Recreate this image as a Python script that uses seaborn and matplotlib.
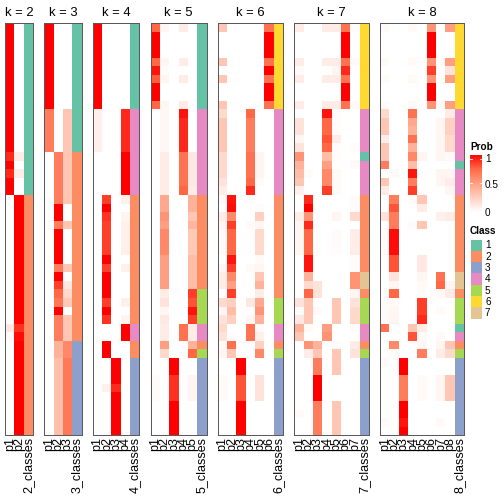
import numpy as np
import pandas as pd
import matplotlib
matplotlib.use("Agg")
import matplotlib.pyplot as plt
import seaborn as sns
from matplotlib.colors import LinearSegmentedColormap, ListedColormap
from matplotlib.patches import Rectangle

# membership probabilities per k (48 samples, top to bottom) and the assigned class
k2_p1 = [1,1,1,1,1,1,1,1,1,1, 1,1,1,1,1,.9,1,.9,1,1, 0,0,0,0,0,0,0,0,0,0, 0,0,0,0,0,.12,.03,0,0,0, 0,0,0,0,0,0,0,0]
k2_p2 = [0,0,0,0,0,0,0,0,0,0, 0,0,0,0,0,.1,0,.1,0,0, 1,1,1,1,1,1,1,1,1,1, 1,1,1,1,1,.88,.97,1,1,1, 1,1,1,1,1,1,1,1]
k2_cls = [1,1,1,1,1,1,1,1,1,1, 1,1,1,1,1,1,1,1,1,1, 2,2,2,2,2,2,2,2,2,2, 2,2,2,2,2,2,2,2,2,2, 2,2,2,2,2,2,2,2]

k3_p1 = [1,1,1,1,1,1,1,1,1,1, .65,.65,.65,.65,.65,0,0,0,0,0, 0,0,0,0,0,0,0,0,0,0, 0,0,0,0,0,0,0,0,0,0, 0,0,0,0,0,0,0,0]
k3_p2 = [0,0,0,0,0,0,0,0,0,0, 0,0,0,0,0,.65,.65,.65,.65,.65, .65,1,1,.65,1,1,1,1,.65,1, .85,.75,.68,1,.65,.65,.65,.4,.4,.33, .33,.33,.33,.33,.33,.33,.33,.33]
k3_p3 = [0,0,0,0,0,0,0,0,0,0, .3,.3,.3,.3,.3,.3,.3,.3,.3,.3, .3,0,0,.3,0,0,0,0,.3,0, .12,.2,.28,0,.3,.3,.3,.6,.6,.67, .67,.67,.67,.67,.67,.67,.67,.67]
k3_cls = [1,1,1,1,1,1,1,1,1,1, 1,1,1,1,1,2,2,2,2,2, 2,2,2,2,2,2,2,2,2,2, 2,2,2,2,2,2,2,3,3,3, 3,3,3,3,3,3,3,3]

k4_p1 = [1,1,1,1,1,1,1,1,1,1, .08,.08,.08,.08,.08,0,0,0,0,0, 0,0,0,0,0,0,0,0,0,0, 0,0,0,0,0,0,0,0,0,0, 0,0,0,0,0,0,0,0]
k4_p2 = [0,0,0,0,0,0,0,0,0,0, 0,0,0,0,0,0,0,0,0,0, .85,1,.88,.85,.85,.85,.85,1,.85,1, 1,1,.85,1,.88,0,0,1,1,0, 0,0,.08,0,0,0,0,0]
k4_p3 = [0,0,0,0,0,0,0,0,0,0, 0,0,0,0,0,0,0,0,0,0, 0,0,0,0,0,0,0,0,0,0, 0,0,0,0,0,0,0,0,0,1, 1,1,.9,1,1,1,1,1]
k4_p4 = [0,0,0,0,0,0,0,0,0,0, .9,.9,.9,.9,.9,1,1,1,1,1, .08,0,.06,.08,.08,.08,.08,0,.08,0, 0,0,.08,0,.06,1,1,0,0,0, 0,0,0,0,0,0,0,0]
k4_cls = [1,1,1,1,1,1,1,1,1,1, 4,4,4,4,4,4,4,4,4,4, 2,2,2,2,2,2,2,2,2,2, 2,2,2,2,2,4,4,2,2,3, 3,3,3,3,3,3,3,3]

k5_p1 = [.75,1,1,1,.75,.95,.78,1,1,.75, 0,0,0,0,0,0,0,0,0,0, 0,0,0,0,0,0,0,0,0,0, 0,0,0,0,0,0,0,0,0,0, 0,.02,.02,.02,0,0,0,0]
k5_p2 = [.05,0,0,0,.05,.02,.05,0,0,.05, .04,.04,.04,.04,.04,.1,.1,.1,.1,.1, .45,.45,.55,.5,.6,.6,.6,.5,.5,.5, .5,.1,.15,.05,.12,.1,.1,.5,.2,0, 0,0,0,0,0,0,0,0]
k5_p3 = [0,0,0,0,0,0,0,0,0,0, 0,0,0,0,0,0,0,0,0,0, 0,0,0,0,0,0,0,0,0,0, 0,0,0,0,0,0,0,0,0,1, 1,.88,.88,.88,1,1,1,1]
k5_p4 = [.1,0,0,0,.1,0,.1,0,0,.1, .95,.9,.9,.9,.9,.7,.7,.7,.7,.75, 0,0,0,0,0,0,0,0,0,0, 0,0,0,0,0,.7,.7,0,0,0, 0,0,0,0,0,0,0,0]
k5_p5 = [0,0,0,0,0,0,0,0,0,0, 0,0,0,0,0,.12,.12,.12,.12,.1, .4,.4,.3,.38,.28,.28,.28,.35,.35,.35, .35,.85,.8,.95,.85,.1,.1,.4,.75,0, 0,.06,.06,.06,0,0,0,0]
k5_cls = [1,1,1,1,1,1,1,1,1,1, 4,4,4,4,4,4,4,4,4,4, 2,2,2,2,2,2,2,2,2,2, 2,5,5,5,5,4,4,2,5,3, 3,3,3,3,3,3,3,3]

k6_p1 = [.3,0,0,0,.3,0,.3,0,0,.3, .2,.3,.3,.3,.3,.2,.2,.2,.15,.1, .03,0,.1,.05,.03,.03,.03,0,.05,.1, .1,0,.2,.05,.15,.2,.15,.03,.05,0, 0,.03,.03,.03,0,0,0,0]
k6_p2 = [0,0,0,0,0,0,0,0,0,0, 0,0,0,0,0,0,0,0,0,0, .95,.97,.6,.85,.75,.75,.75,.95,.85,.6, .5,.85,.25,.35,.25,0,.02,.7,.3,0, 0,0,0,0,0,0,0,0]
k6_p3 = [0,0,0,0,0,0,0,0,0,0, 0,0,0,0,0,0,0,0,0,0, 0,0,0,0,0,0,0,0,0,0, 0,0,0,0,0,0,0,0,0,1, 1,.8,.8,.8,1,1,1,1]
k6_p4 = [0,0,0,0,0,0,0,0,0,0, .75,.65,.65,.65,.65,.7,.7,.7,.75,.9, .02,0,0,.03,0,0,0,0,.03,0, 0,0,.12,0,.05,.7,.7,0,0,0, 0,0,0,0,0,0,0,0]
k6_p5 = [0,0,0,0,0,0,0,0,0,0, 0,0,0,0,0,.05,.05,.05,.02,0, 0,.02,.25,.05,.2,.2,.2,.03,.05,.3, .4,.1,.45,.55,.4,.03,.08,.25,.6,0, 0,.15,.15,.15,0,0,0,0]
k6_p6 = [.7,1,1,1,.7,1,.7,1,1,.7, 0,0,0,0,0,0,0,0,0,0, 0,0,0,0,0,0,0,0,0,0, 0,0,0,0,0,0,0,0,0,0, 0,0,0,0,0,0,0,0]
k6_cls = [6,6,6,6,6,6,6,6,6,6, 4,4,4,4,4,4,4,4,4,4, 2,2,2,2,2,2,2,2,2,2, 2,2,5,5,5,4,4,2,5,3, 3,3,3,3,3,3,3,3]

k7_p1 = [.1,0,0,0,.1,.03,.1,0,0,.1, 0,.15,.15,.05,.15,.55,.4,.35,.3,.08, 0,0,.1,.05,.05,.05,.05,0,0,0, 0,0,.15,.02,.12,.4,.3,0,0,0, 0,0,0,0,0,.03,0,0]
k7_p2 = [0,0,0,0,0,0,0,0,0,0, 0,0,0,0,0,0,0,.02,0,0, .9,1,.55,.9,.75,.75,.75,.95,.95,.4, .2,.75,.3,.3,.3,.03,0,.55,.1,0, 0,0,0,0,0,0,0,0]
k7_p3 = [0,0,0,0,0,0,0,0,0,0, 0,0,0,0,0,0,0,0,0,0, 0,0,0,0,0,0,0,0,0,0, .15,.15,0,.03,0,0,0,.4,.3,.65, .65,1,1,1,.65,.65,.65,.65]
k7_p4 = [.1,0,0,0,.1,0,.1,0,0,.1, .95,.75,.75,.8,.75,.35,.5,.6,.6,.85, 0,0,0,0,0,0,0,0,0,0, 0,0,0,0,0,.5,.55,0,0,0, 0,0,0,0,0,0,0,0]
k7_p5 = [.1,0,0,0,.1,.05,.1,0,0,.1, .02,.02,.02,.1,.02,.02,0,.03,.03,.03, 0,0,.05,0,.02,.02,.02,0,0,0, 0,0,.3,.3,.3,0,0,.02,.3,.3, .3,0,0,0,.3,.3,.3,.3]
k7_p6 = [.7,1,1,1,.7,.9,.7,1,1,.7, 0,0,0,0,0,0,0,0,0,0, 0,0,0,0,0,0,0,0,0,0, 0,0,0,0,0,0,0,0,0,0, 0,0,0,0,0,0,0,0]
k7_p7 = [.02,0,0,0,.03,0,0,0,0,.03, 0,0,0,0,.02,0,.03,0,0,0, .02,.02,.2,0,.1,.1,.1,.02,.02,.55, .55,.05,.15,.2,.2,.02,0,.1,.15,0, 0,0,0,0,0,0,0,0]
k7_cls = [6,6,6,6,6,6,6,6,6,6, 4,4,4,4,4,1,4,4,4,4, 2,2,2,2,2,2,2,2,2,7, 7,2,5,5,5,4,4,2,5,3, 3,3,3,3,3,3,3,3]

k8_p1 = [.03,0,0,0,.03,0,.03,0,0,.03, .2,.3,.3,.1,.3,.3,.65,0,.3,.1, 0,0,.15,0,.02,.02,.02,0,0,0, 0,0,.02,.02,.02,.7,0,0,0,.03, 0,0,0,0,0,0,.03,0]
k8_p2 = [0,0,0,0,0,0,0,0,0,0, 0,0,0,0,0,0,0,.03,0,0, .65,.8,.65,.65,.97,.97,.97,.8,.8,.15, .05,.75,.03,.05,.05,0,0,.6,.02,0, 0,0,0,0,0,0,0,0]
k8_p3 = [0,0,0,0,0,0,0,0,0,0, 0,0,0,0,0,0,0,0,0,0, 0,0,0,0,0,0,0,0,0,0, 0,0,0,0,0,0,0,0,0,1, 1,.65,.65,.65,1,1,.95,1]
k8_p4 = [.03,0,0,0,.03,0,.03,0,0,.03, .7,.45,.4,.7,.4,.6,.35,.95,.65,.85, .02,0,0,.02,0,0,0,0,0,0, 0,0,0,0,0,.3,.8,0,0,0, 0,0,0,0,0,0,0,0]
k8_p5 = [0,0,0,0,0,0,0,0,0,0, 0,0,0,0,0,.05,0,0,0,0, .3,.1,0,.3,0,0,0,.12,.12,.05, .03,.02,.85,.85,.9,.1,.03,.05,.65,0, 0,.03,.03,.03,0,0,0,0]
k8_p6 = [.55,1,1,1,.55,.85,.55,1,1,.55, 0,0,0,0,0,0,0,0,0,0, 0,0,0,0,0,0,0,0,0,0, 0,0,0,0,0,0,0,0,0,0, 0,0,0,0,0,0,0,0]
k8_p7 = [0,0,0,0,.02,0,0,0,0,.03, 0,.05,.05,.05,.05,.05,0,.05,.05,0, 0,0,.08,0,0,0,0,0,0,.7, .75,.03,0,.03,0,0,.03,.05,.1,0, 0,.05,.05,.05,0,0,.03,0]
k8_p8 = [.5,0,0,0,.5,.15,.5,0,0,.5, .1,.25,.25,.2,.2,.03,0,.05,.1,.05, 0,0,.1,0,0,0,0,0,0,0, .05,.1,0,0,0,0,0,.3,.2,0, 0,.3,.3,.3,0,0,0,0]
k8_cls = [6,6,6,6,6,6,6,6,6,6, 4,4,4,4,4,4,1,4,4,4, 2,2,2,2,2,2,2,2,2,7, 7,2,5,5,5,1,4,2,5,3, 3,3,3,3,3,3,3,3]

panels = {
    2: ([k2_p1, k2_p2], k2_cls),
    3: ([k3_p1, k3_p2, k3_p3], k3_cls),
    4: ([k4_p1, k4_p2, k4_p3, k4_p4], k4_cls),
    5: ([k5_p1, k5_p2, k5_p3, k5_p4, k5_p5], k5_cls),
    6: ([k6_p1, k6_p2, k6_p3, k6_p4, k6_p5, k6_p6], k6_cls),
    7: ([k7_p1, k7_p2, k7_p3, k7_p4, k7_p5, k7_p6, k7_p7], k7_cls),
    8: ([k8_p1, k8_p2, k8_p3, k8_p4, k8_p5, k8_p6, k8_p7, k8_p8], k8_cls),
}
class_labels = ["1", "2", "3", "4", "5", "6", "7"]
class_colors = ["#66C2A5", "#FC8D62", "#8DA0CB", "#E78AC3", "#A6D854", "#FFD92F", "#E5C494"]
prob_ticks = [0, 0.5, 1]

plt.rcParams['font.family'] = ['Liberation Sans', 'DejaVu Sans']

# white -> red, interpolated roughly like LAB
prob_cmap = LinearSegmentedColormap.from_list(
    "prob", [(0, "#FFFFFF"), (.25, "#FFCFBF"), (.5, "#FF9E81"), (.75, "#FF6846"), (1, "#FF0000")])
class_cmap = ListedColormap(class_colors)

W = H = 504
fig = plt.figure(figsize=(7, 7), dpi=72)

col_w, gap = 9.33, 11.2
top, bottom = 23.3, 435.3
x = 5.0
for k, (probs, cls) in panels.items():
    ncol = k + 1
    w = ncol * col_w
    ax = fig.add_axes([x / W, 1 - bottom / H, w / W, (bottom - top) / H])
    names = [f"p{i + 1}" for i in range(k)] + [f"{k}_classes"]
    df = pd.DataFrame(np.column_stack(probs + [cls]).astype(float), columns=names)
    m = np.zeros(df.shape, dtype=bool)
    m[:, -1] = True
    sns.heatmap(df, mask=m, cmap=prob_cmap, vmin=0, vmax=1, cbar=False, ax=ax)
    sns.heatmap(df, mask=~m, cmap=class_cmap, vmin=0.5, vmax=7.5, cbar=False, ax=ax)
    ax.set_yticks([])
    ax.set_xticks(np.arange(ncol) + 0.5)
    ax.set_xticklabels(names, rotation=90, fontsize=12.5)
    ax.tick_params(axis='x', length=0, pad=2)
    ax.set_ylabel("")
    for s in ax.spines.values():
        s.set_visible(True)
        s.set_color("#5A5A5A")
        s.set_linewidth(1.0)
    ax.set_title(f"k = {k}", fontsize=13, pad=7)
    x += w + gap

# Prob legend
fig.text(470 / W, 1 - 150 / H, "Prob", fontsize=10, fontweight='bold', ha='left', va='baseline')
cax = fig.add_axes([470 / W, 1 - 212 / H, 12 / W, 57 / H])
grad = np.linspace(0, 1, 200).reshape(-1, 1)
cax.imshow(grad, cmap=prob_cmap, aspect='auto', origin='lower', extent=(0, 1, 0, 1))
for t in prob_ticks:
    yy = 0.075 + t * 0.86
    cax.plot([0, 0.2], [yy, yy], color='white', lw=0.8)
    cax.plot([0.8, 1], [yy, yy], color='white', lw=0.8)
    fig.text(485 / W, 1 - (212.5 - t * 54) / H, f"{t:g}", fontsize=10, ha='left', va='center')
cax.set_xlim(0, 1)
cax.set_ylim(0, 1)
cax.axis('off')

# Class legend
fig.text(470 / W, 1 - 233.5 / H, "Class", fontsize=10, fontweight='bold', ha='left', va='baseline')
lax = fig.add_axes([0, 0, 1, 1])
lax.set_xlim(0, W)
lax.set_ylim(H, 0)
lax.axis('off')
for i, (lab, c) in enumerate(zip(class_labels, class_colors)):
    y0 = 239.5 + i * 11.3
    lax.add_patch(Rectangle((470.5, y0), 11, 11.3, facecolor=c, edgecolor='none'))
    lax.text(485, y0 + 5.9, lab, fontsize=10, ha='left', va='center')

fig.savefig("out.png", dpi=72)
